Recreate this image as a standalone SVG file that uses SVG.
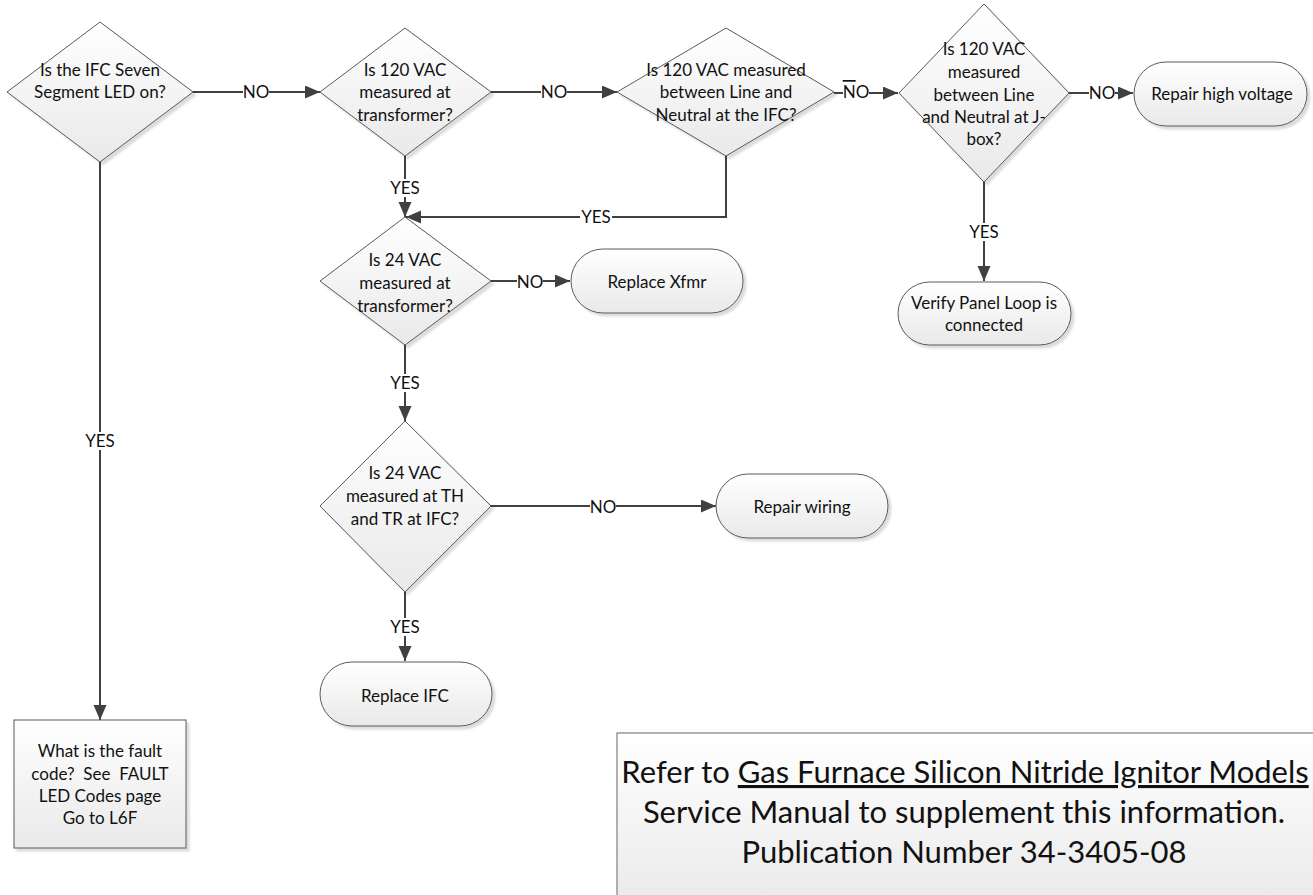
<svg xmlns="http://www.w3.org/2000/svg" width="1313" height="895" viewBox="0 0 1313 895">
<defs>
<linearGradient id="g" x1="0" y1="0" x2="0" y2="1">
<stop offset="0" stop-color="#ffffff"/>
<stop offset="1" stop-color="#e9e9e9"/>
</linearGradient>
<filter id="sh" x="-10%" y="-10%" width="130%" height="130%">
<feDropShadow dx="3" dy="3" stdDeviation="1.2" flood-color="#000" flood-opacity="0.14"/>
</filter>
<marker id="arr" markerUnits="userSpaceOnUse" markerWidth="16" markerHeight="14" refX="15" refY="6.5" orient="auto">
<path d="M0,0 L15,6.5 L0,13 z" fill="#404040"/>
</marker>
</defs>
<style>
.shape{fill:url(#g);stroke:#5a5a5a;stroke-width:1;filter:url(#sh)}
.t{font-family:Lato,"Liberation Sans",sans-serif;font-size:17px;fill:#111;text-anchor:middle}
.c{fill:none;stroke:#404040;stroke-width:2}
.lb{fill:#fff}
.big{font-family:Lato,"Liberation Sans",sans-serif;font-size:31px;fill:#111;text-anchor:middle}
</style>
<rect width="1313" height="895" fill="#fff"/>

<g id="connectors">
<line class="c" x1="193" y1="92" x2="320" y2="92" marker-end="url(#arr)"/>
<line class="c" x1="491" y1="92" x2="617" y2="92" marker-end="url(#arr)"/>
<line class="c" x1="834" y1="93" x2="898" y2="93" marker-end="url(#arr)"/>
<line class="c" x1="1069" y1="93" x2="1133" y2="93" marker-end="url(#arr)"/>
<line class="c" x1="984" y1="182" x2="984" y2="281" marker-end="url(#arr)"/>
<line class="c" x1="405" y1="156" x2="405" y2="217" marker-end="url(#arr)"/>
<polyline class="c" points="726,156 726,217 406,217" marker-end="url(#arr)"/>
<line class="c" x1="491" y1="281" x2="570" y2="281" marker-end="url(#arr)"/>
<line class="c" x1="405" y1="345" x2="405" y2="421" marker-end="url(#arr)"/>
<line class="c" x1="491" y1="506" x2="716" y2="506" marker-end="url(#arr)"/>
<line class="c" x1="405" y1="592" x2="405" y2="661" marker-end="url(#arr)"/>
<line class="c" x1="100" y1="162" x2="100" y2="720" marker-end="url(#arr)"/>
<rect class="lb" x="243" y="83" width="26" height="18"/><text class="t" x="256" y="98">NO</text>
<rect class="lb" x="541" y="83" width="26" height="18"/><text class="t" x="554" y="98">NO</text>
<rect class="lb" x="843" y="78" width="26" height="20"/><text class="t" x="856" y="98"><tspan text-decoration="overline">N</tspan>O</text>
<rect class="lb" x="1089" y="84" width="26" height="18"/><text class="t" x="1102" y="99">NO</text>
<rect class="lb" x="968" y="223" width="32" height="18"/><text class="t" x="984" y="238">YES</text>
<rect class="lb" x="389" y="179" width="32" height="18"/><text class="t" x="405" y="194">YES</text>
<rect class="lb" x="580" y="208" width="32" height="18"/><text class="t" x="596" y="223">YES</text>
<rect class="lb" x="517" y="273" width="26" height="18"/><text class="t" x="530" y="288">NO</text>
<rect class="lb" x="389" y="374" width="32" height="18"/><text class="t" x="405" y="389">YES</text>
<rect class="lb" x="590" y="498" width="26" height="18"/><text class="t" x="603" y="513">NO</text>
<rect class="lb" x="389" y="618" width="32" height="18"/><text class="t" x="405" y="633">YES</text>
<rect class="lb" x="84" y="432" width="32" height="18"/><text class="t" x="100" y="447">YES</text>
</g>

<g id="n1">
<polygon class="shape" points="100,22 193,92 100,162 7,92"/>
<text class="t" x="100" y="76">Is the IFC Seven</text>
<text class="t" x="100" y="98">Segment LED on?</text>
</g>
<g id="n2">
<polygon class="shape" points="405,28 491,92 405,156 320,92"/>
<text class="t" x="405" y="76">Is 120 VAC</text>
<text class="t" x="405" y="98">measured at</text>
<text class="t" x="405" y="121">transformer?</text>
</g>
<g id="n3">
<polygon class="shape" points="726,28 834,92 726,156 617,92"/>
<text class="t" x="726" y="76">Is 120 VAC measured</text>
<text class="t" x="726" y="98">between Line and</text>
<text class="t" x="726" y="121">Neutral at the IFC?</text>
</g>
<g id="n4">
<polygon class="shape" points="984,4 1069,93 984,182 899,93"/>
<text class="t" x="984" y="55">Is 120 VAC</text>
<text class="t" x="984" y="78">measured</text>
<text class="t" x="984" y="101">between Line</text>
<text class="t" x="984" y="123">and Neutral at J-</text>
<text class="t" x="984" y="145">box?</text>
</g>
<g id="n5">
<rect class="shape" x="1134" y="62" width="173" height="64" rx="32"/>
<text class="t" x="1222" y="100">Repair high voltage</text>
</g>
<g id="n6">
<rect class="shape" x="898" y="282" width="173" height="63" rx="31.5"/>
<text class="t" x="984" y="309">Verify Panel Loop is</text>
<text class="t" x="984" y="331">connected</text>
</g>
<g id="n7">
<polygon class="shape" points="405,217 491,281 405,345 320,281"/>
<text class="t" x="405" y="266">Is 24 VAC</text>
<text class="t" x="405" y="289">measured at</text>
<text class="t" x="405" y="312">transformer?</text>
</g>
<g id="n8">
<rect class="shape" x="571" y="249" width="172" height="64" rx="32"/>
<text class="t" x="657" y="288">Replace Xfmr</text>
</g>
<g id="n9">
<polygon class="shape" points="405,421 491,506 405,592 320,506"/>
<text class="t" x="405" y="479">Is 24 VAC</text>
<text class="t" x="405" y="502">measured at TH</text>
<text class="t" x="405" y="525">and TR at IFC?</text>
</g>
<g id="n10">
<rect class="shape" x="716" y="474" width="172" height="64" rx="32"/>
<text class="t" x="802" y="513">Repair wiring</text>
</g>
<g id="n11">
<rect class="shape" x="320" y="662" width="172" height="64" rx="32"/>
<text class="t" x="405" y="702">Replace IFC</text>
</g>
<g id="n12">
<rect class="shape" x="14" y="720" width="172" height="128"/>
<text class="t" x="100" y="757">What is the fault</text>
<text class="t" x="100" y="780" xml:space="preserve">code?  See  FAULT</text>
<text class="t" x="100" y="802">LED Codes page</text>
<text class="t" x="100" y="824">Go to L6F</text>
</g>
<g id="note">
<rect x="617" y="733" width="710" height="180" fill="url(#g)" stroke="#7f7f7f" stroke-width="1.2"/>
<text class="big" x="965" y="783">Refer to <tspan text-decoration="underline">Gas Furnace Silicon Nitride Ignitor Models</tspan></text>
<text class="big" x="964" y="823">Service Manual to supplement this information.</text>
<text class="big" x="964" y="863">Publication Number 34-3405-08</text>
</g>
</svg>
